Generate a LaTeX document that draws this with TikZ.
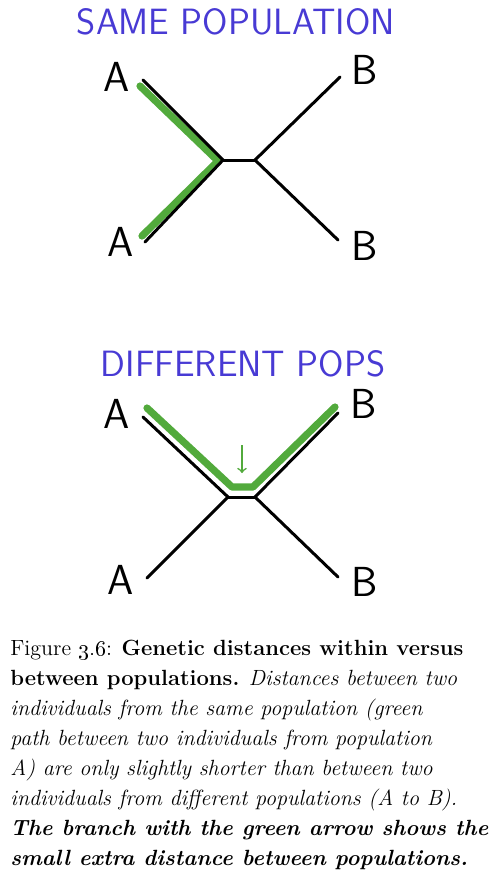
\documentclass[tikz,border=0pt]{standalone}
\usepackage{xcolor}
\definecolor{pop-green}{RGB}{82,170,60}
\definecolor{pop-blue}{RGB}{72,58,212}
\usepackage{tikz}
\usetikzlibrary{arrows, positioning}

\begin{document}
\begin{tikzpicture}[
    x=0.5pt, y=-0.5pt,
    branch/.style={draw=black, line width=1.5pt, line cap=round},
    greenpath/.style={draw=pop-green, line width=3.6pt, line cap=round, line join=round},
    tiplabel/.style={font=\sffamily\fontsize{21}{21}\selectfont, inner sep=0pt},
    heading/.style={font=\sffamily\fontsize{18.3}{18.3}\selectfont, text=pop-blue, inner sep=0pt},
    arrow/.style={->, draw=pop-green, line width=0.8pt, >=to}
]
\useasboundingbox (0,0) rectangle (497,880);

% Mesma populacao
\node[heading] (same) at (236,22) {SAME POPULATION};

\coordinate (s-left) at (223,160);
\coordinate (s-right) at (255,160);
\coordinate (s-a1) at (143,80);
\coordinate (s-a2) at (145,242);
\coordinate (s-b1) at (340,77);
\coordinate (s-b2) at (338,240);

\coordinate (sg-a1) at (140,86);
\coordinate (sg-mid) at (218,161);
\coordinate (sg-a2) at (142,236);

\node[tiplabel] (sa1) at (117,77) {A};
\node[tiplabel] (sb1) at (365,70) {B};
\node[tiplabel] (sa2) at (121,242) {A};
\node[tiplabel] (sb2) at (365,246) {B};

\draw[greenpath] (sg-a1) -- (sg-mid) -- (sg-a2);
\draw[branch] (s-a1) -- (s-left);
\draw[branch] (s-a2) -- (s-left);
\draw[branch] (s-left) -- (s-right);
\draw[branch] (s-right) -- (s-b1);
\draw[branch] (s-right) -- (s-b2);

% Populacoes diferentes
\node[heading] (diff) at (243,364) {DIFFERENT POPS};

\coordinate (d-left) at (228,497);
\coordinate (d-right) at (255,497);
\coordinate (d-a1) at (143,417);
\coordinate (d-a2) at (147,578);
\coordinate (d-b1) at (338,413);
\coordinate (d-b2) at (338,577);

\coordinate (dg-a1) at (147,408);
\coordinate (dg-left) at (232,487);
\coordinate (dg-right) at (253,487);
\coordinate (dg-b1) at (335,407);

\node[tiplabel] (da1) at (117,414) {A};
\node[tiplabel] (db1) at (364,404) {B};
\node[tiplabel] (da2) at (121,580) {A};
\node[tiplabel] (db2) at (365,582) {B};

\draw[greenpath] (dg-a1) -- (dg-left) -- (dg-right) -- (dg-b1);
\draw[branch] (d-a1) -- (d-left);
\draw[branch] (d-a2) -- (d-left);
\draw[branch] (d-left) -- (d-right);
\draw[branch] (d-right) -- (d-b1);
\draw[branch] (d-right) -- (d-b2);

\coordinate (arr-top) at (242,445);
\coordinate (arr-tip) at (242,473);
\draw[arrow] (arr-top) -- (arr-tip);

% Legenda
\node[anchor=north west, inner sep=0pt, align=left,
      font=\fontsize{11}{15}\selectfont] (caption) at (10,640) {%
Figure \oldstylenums{3.6}: \textbf{Genetic distances within versus}\\
\textbf{between populations.} \textit{Distances between two}\\
\textit{individuals from the same population (green}\\
\textit{path between two individuals from population}\\
\textit{A) are only slightly shorter than between two}\\
\textit{individuals from different populations (A to B).}\\
\textit{\textbf{The branch with the green arrow shows the}}\\
\textit{\textbf{small extra distance between populations.}}};

\end{tikzpicture}
\end{document}
